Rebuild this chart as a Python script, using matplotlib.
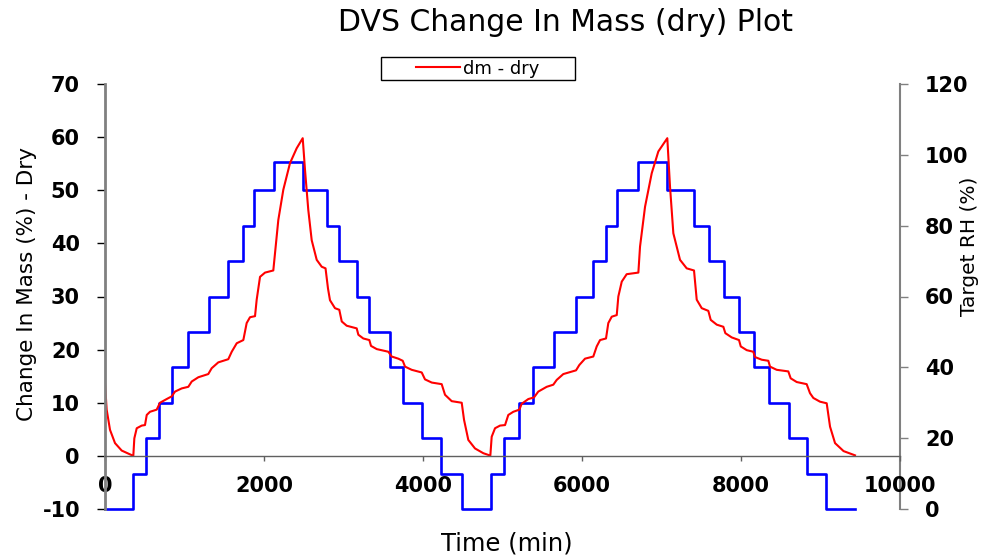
import numpy as np
import matplotlib.pyplot as plt
from matplotlib.patches import Rectangle

plt.rcParams["axes.unicode_minus"] = False

# dm - dry (red)
time_dm = [0, 21, 63, 126, 210, 356, 369, 399, 462, 503, 525, 566, 650, 692, 776, 839,
           881, 965, 1048, 1091, 1174, 1299, 1342, 1425, 1551, 1594, 1657, 1740, 1782,
           1824, 1887, 1908, 1950, 2013, 2117, 2138, 2180, 2243, 2327, 2411, 2487, 2516,
           2557, 2600, 2663, 2726, 2774, 2805, 2830, 2893, 2947, 2978, 3040, 3166, 3187,
           3249, 3325, 3346, 3418, 3564, 3606, 3689, 3745, 3774, 3858, 3984, 4025, 4110,
           4235, 4277, 4361, 4487, 4516, 4570, 4654, 4759, 4847,
           4864, 4906, 4969, 5032, 5073, 5136, 5212, 5241, 5325, 5396, 5450, 5556, 5639,
           5682, 5765, 5925, 5966, 6038, 6142, 6185, 6227, 6302, 6331, 6374, 6437, 6457,
           6500, 6562, 6709, 6730, 6793, 6877, 6960, 7073, 7107, 7149, 7233, 7317, 7409,
           7443, 7506, 7589, 7619, 7695, 7778, 7803, 7883, 7975, 7997, 8072, 8155, 8176,
           8261, 8344, 8365, 8449, 8595, 8625, 8701, 8826, 8868, 8910, 8994, 9078, 9120,
           9183, 9290, 9434]
dm_dry = [13.7, 8.7, 4.9, 2.4, 1.0, 0.0, 3.3, 5.2, 5.7, 5.8, 7.7, 8.3, 8.7, 10.0, 10.7, 11.2,
          12.1, 12.7, 13.0, 14.0, 14.8, 15.4, 16.5, 17.6, 18.2, 19.6, 21.2, 21.8, 25.0,
          26.1, 26.3, 29.4, 33.7, 34.5, 34.9, 38.1, 44.4, 50.1, 55.1, 57.9, 59.8, 53.8,
          46.3, 40.6, 36.9, 35.6, 35.3, 31.5, 29.3, 27.8, 27.5, 25.3, 24.5, 24.0, 22.8,
          22.1, 21.8, 20.7, 20.1, 19.6, 18.7, 18.3, 17.9, 16.8, 16.2, 15.7, 14.4, 13.8,
          13.5, 11.5, 10.3, 10.0, 6.8, 3.0, 1.4, 0.5, 0.05,
          3.6, 5.2, 5.7, 5.8, 7.7, 8.3, 8.7, 9.8, 10.7, 11.0, 12.1, 13.0, 13.4,
          14.3, 15.4, 16.1, 17.1, 18.3, 18.7, 20.6, 21.8, 22.1, 25.0, 26.2, 26.5, 30.0,
          32.8, 34.2, 34.5, 39.4, 46.9, 53.2, 57.3, 59.8, 50.7, 41.9, 36.9, 35.3, 34.9,
          29.4, 27.8, 27.3, 25.6, 24.7, 24.3, 23.1, 22.3, 21.8, 20.6, 19.9, 19.6, 18.6,
          18.1, 17.9, 16.8, 16.2, 15.9, 14.6, 13.9, 13.5, 11.8, 10.9, 10.2, 9.9, 5.5,
          2.4, 0.9, 0.1]

# target RH steps (blue)
time_rh = [0, 355, 512, 680, 845, 1048, 1308, 1543, 1732, 1879, 2130, 2487, 2797, 2948,
           3174, 3325, 3585, 3745, 3982, 4227, 4487, 4852, 5022, 5206, 5388, 5648, 5925,
           6143, 6298, 6444, 6709, 7074, 7413, 7602, 7787, 7980, 8165, 8348, 8601, 8827,
           9070, 9434]
target_rh = [0, 10, 20, 30, 40, 50, 60, 70, 80, 90, 98, 90, 80, 70, 60, 50, 40, 30, 20, 10,
             0, 10, 20, 30, 40, 50, 60, 70, 80, 90, 98, 90, 80, 70, 60, 50, 40, 30, 20, 10,
             0, 0]

W, H = 986, 556
fig = plt.figure(figsize=(W / 100, H / 100), dpi=100)
ax = fig.add_axes([105 / W, 1 - 509 / H, 795 / W, 425 / H])
ax2 = ax.twinx()

ax2.plot(time_rh, target_rh, color="#0000ff", lw=1.9, drawstyle="steps-post", clip_on=False)
line, = ax.plot(time_dm, dm_dry, color="#ff0000", lw=1.5, label="dm - dry")

ax.set_zorder(ax2.get_zorder() + 1)
ax.patch.set_visible(False)

ax.set_xlim(0, 10000)
ax.set_ylim(-10, 70)
ax2.set_ylim(0, 120)
ax.set_xticks(np.arange(0, 10001, 2000))
ax.set_yticks(np.arange(-10, 71, 10))
ax2.set_yticks(np.arange(0, 121, 20))

gray = "#808080"
ax.spines["top"].set_visible(False)
ax.spines["right"].set_visible(False)
ax.spines["bottom"].set_position(("data", 0))
ax.spines["bottom"].set_color("#606060")
ax.spines["bottom"].set_linewidth(1.0)
ax.spines["left"].set_color(gray)
ax.spines["left"].set_linewidth(2.0)
for s in ["top", "left", "bottom"]:
    ax2.spines[s].set_visible(False)
ax2.spines["right"].set_color(gray)
ax2.spines["right"].set_linewidth(1.5)

ax.tick_params(axis="y", direction="out", length=6, width=1, color="black", pad=12)
ax.tick_params(axis="x", direction="out", length=3.6, width=1, color="#606060", pad=11)
ax2.tick_params(axis="y", direction="out", length=6, width=1, color=gray, pad=12)
for lab in ax.get_xticklabels() + ax.get_yticklabels() + ax2.get_yticklabels():
    lab.set_fontsize(15)
    lab.set_fontweight("bold")

ax.set_xlabel("Time (min)", fontsize=17.5, va="top")
ax.xaxis.set_label_coords(0.506, -0.052)
ax.set_ylabel("Change In Mass (%) - Dry", fontsize=15.5)
ax.yaxis.set_label_coords(-0.0855, 0.53)
ax2.set_ylabel("Target RH (%)", fontsize=14.5)
ax2.yaxis.set_label_coords(1.0755, 0.617)

fig.text(565 / W, 1 - 8 / H, "DVS Change In Mass (dry) Plot", fontsize=21.5,
         ha="center", va="top")

# legend with a wide box like the original
fig.patches.append(Rectangle((381 / W, 1 - 80 / H), 194 / W, 23 / H,
                             transform=fig.transFigure, fill=False,
                             edgecolor="black", lw=1.0))
fig.legend(handles=[line], loc="center", bbox_to_anchor=(478 / W, 1 - 68.5 / H),
           frameon=False, fontsize=13, handlelength=2.4, handletextpad=0.2,
           borderpad=0)

fig.savefig("out.png", dpi=100)
